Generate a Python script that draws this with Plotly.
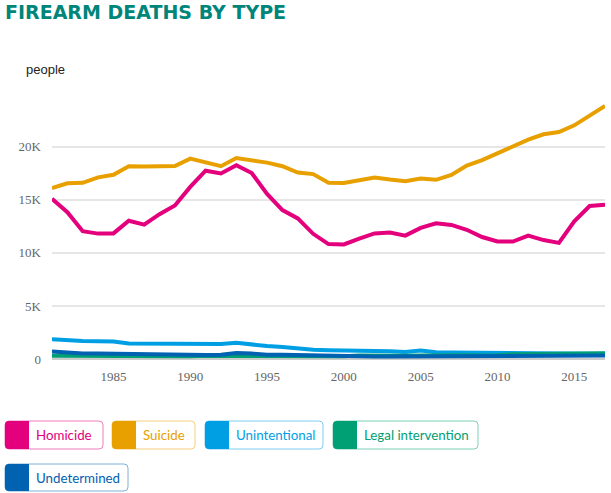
import plotly.graph_objects as go

years = list(range(1981, 2018))

homicide = [15089, 13830, 12040, 11815, 11836, 13029, 12657, 13645, 14464, 16218,
            17746, 17488, 18253, 17527, 15551, 14037, 13252, 11798, 10828, 10801,
            11348, 11829, 11920, 11624, 12352, 12791, 12632, 12179, 11493, 11078,
            11068, 11622, 11208, 10945, 12979, 14415, 14542]
suicide = [16100, 16560, 16600, 17113, 17363, 18153, 18136, 18169, 18178, 18885,
           18526, 18169, 18940, 18765, 18503, 18166, 17566, 17424, 16599, 16586,
           16869, 17108, 16907, 16750, 17002, 16883, 17352, 18223, 18735, 19392,
           19990, 20666, 21175, 21386, 22018, 22938, 23854]
unintentional = [1871, 1756, 1695, 1668, 1649, 1452, 1440, 1501, 1489, 1416,
                 1441, 1409, 1521, 1356, 1225, 1134, 981, 866, 824, 776,
                 802, 762, 730, 649, 789, 642, 613, 592, 554, 606,
                 591, 548, 505, 461, 489, 495, 486]
legal = [300, 290, 300, 270, 250, 250, 230, 220, 240, 260,
         300, 290, 330, 320, 280, 270, 270, 280, 299, 270,
         323, 300, 347, 311, 330, 360, 351, 351, 333, 344,
         454, 471, 467, 464, 488, 510, 553]
undetermined = [700, 580, 520, 510, 480, 500, 440, 480, 410, 360,
                370, 410, 560, 510, 400, 410, 370, 320, 324, 230,
                231, 243, 232, 235, 221, 220, 276, 243, 232, 252,
                248, 256, 281, 270, 282, 300, 338]

series_names = ["Homicide", "Suicide", "Unintentional", "Legal intervention", "Undetermined"]
series_values = [homicide, suicide, unintentional, legal, undetermined]
colors = ["#e4007c", "#e8a000", "#009fe3", "#00a074", "#0062b1"]
border_colors = ["#f07cba", "#f5cf7f", "#7fcef1", "#7fd0b9", "#7fb0d8"]

y_tickvals = [0, 5000, 10000, 15000, 20000]
y_ticktext = ["0", "5K", "10K", "15K", "20K"]
x_tickvals = [1985, 1990, 1995, 2000, 2005, 2010, 2015]

W, H = 611, 493
L, R, T, B = 52, 605, 99, 359

fig = go.Figure()
for name, vals, c in zip(series_names, series_values, colors):
    fig.add_trace(go.Scatter(x=years, y=vals, name=name, mode="lines",
                             line=dict(color=c, width=4), showlegend=False))


def px(x):
    return (x - L) / (R - L)


def py(y):
    return (B - y) / (B - T)


def rrect(x0, y0, x1, y1, r):
    rx = r / (R - L)
    ry = r / (B - T)
    a0, a1 = px(x0), px(x1)
    b0, b1 = py(y0), py(y1)  # b0 top, b1 bottom
    return (f"M {a0+rx},{b0} L {a1-rx},{b0} Q {a1},{b0} {a1},{b0-ry} "
            f"L {a1},{b1+ry} Q {a1},{b1} {a1-rx},{b1} L {a0+rx},{b1} "
            f"Q {a0},{b1} {a0},{b1+ry} L {a0},{b0-ry} Q {a0},{b0} {a0+rx},{b0} Z")


def lrect(x0, y0, x1, y1, r):
    # colored square with rounded left corners only
    rx = r / (R - L)
    ry = r / (B - T)
    a0, a1 = px(x0), px(x1)
    b0, b1 = py(y0), py(y1)
    return (f"M {a0+rx},{b0} L {a1},{b0} L {a1},{b1} L {a0+rx},{b1} "
            f"Q {a0},{b1} {a0},{b1+ry} L {a0},{b0-ry} Q {a0},{b0} {a0+rx},{b0} Z")


legend_boxes = [(5, 421, 103, 449), (112, 421, 195, 449), (205, 421, 323, 449),
                (333, 421, 478, 449), (5, 464, 128, 491)]

shapes = []
annotations = []
for (x0, y0, x1, y1), name, c, bc in zip(legend_boxes, series_names, colors, border_colors):
    shapes.append(dict(type="path", xref="paper", yref="paper", path=rrect(x0, y0, x1, y1, 4),
                       line=dict(color=bc, width=1), fillcolor="white", layer="above"))
    shapes.append(dict(type="path", xref="paper", yref="paper", path=lrect(x0, y0, x0 + 24, y1, 4),
                       line=dict(color=c, width=0), fillcolor=c, layer="above"))
    annotations.append(dict(xref="paper", yref="paper", x=px(x0 + 29), y=py((y0 + y1) / 2),
                            text=name, showarrow=False, xanchor="left", yanchor="middle",
                            font=dict(family="Lato", size=13.3, color=c)))

annotations.append(dict(xref="paper", yref="paper", x=px(3), y=py(12),
                        text="<b>FIREARM DEATHS BY TYPE</b>", showarrow=False,
                        xanchor="left", yanchor="middle",
                        font=dict(family="DejaVu Sans", size=19, color="#00857b")))
annotations.append(dict(xref="paper", yref="paper", x=px(24), y=py(70),
                        text="people", showarrow=False, xanchor="left", yanchor="middle",
                        font=dict(family="Liberation Sans", size=13, color="#222222")))

fig.update_layout(
    width=W, height=H,
    margin=dict(l=L, r=W - R, t=T, b=H - B),
    plot_bgcolor="white", paper_bgcolor="white",
    hovermode=False,
    xaxis=dict(range=[1981, 2017], tickvals=x_tickvals, showgrid=False, zeroline=False,
               showline=False, ticks="", ticklabelstandoff=8,
               tickfont=dict(family="Liberation Serif", size=13, color="#666666")),
    yaxis=dict(range=[0, 24500], tickvals=y_tickvals, ticktext=y_ticktext,
               showgrid=True, gridcolor="#e6e6e6", gridwidth=1.5,
               zeroline=True, zerolinecolor="#cccccc", zerolinewidth=2,
               showline=False, ticks="", ticklabelstandoff=10,
               tickfont=dict(family="Liberation Serif", size=13, color="#666666")),
    shapes=shapes, annotations=annotations,
)

fig.write_html("out.html", config={"displayModeBar": False},
               post_script="document.body.style.margin='0';")
